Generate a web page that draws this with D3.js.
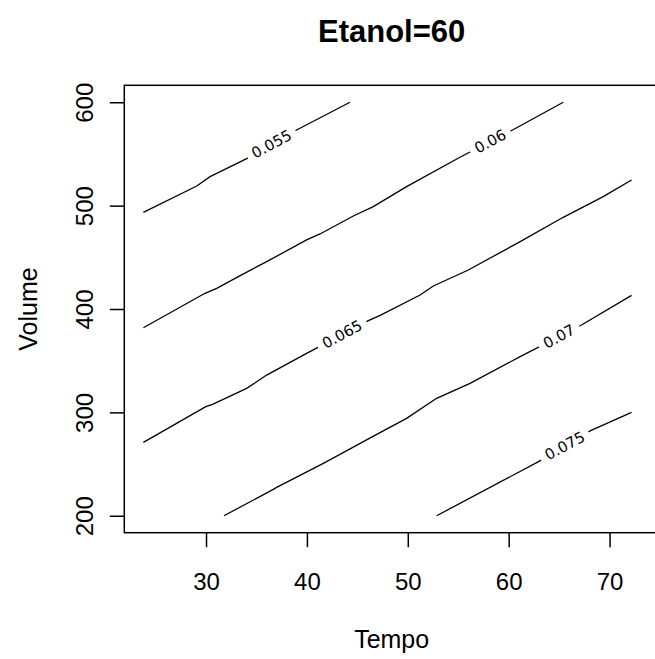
<!DOCTYPE html>
<html>
<head>
<meta charset="utf-8">
<script src="https://cdn.jsdelivr.net/npm/d3@7/dist/d3.min.js"></script>
<style>
  html, body { margin: 0; padding: 0; background: #fff; }
  svg { display: block; }
</style>
</head>
<body>
<svg id="chart" width="655" height="659"></svg>
<script>
// ---- data ----
const title = "Etanol=60";
const xLabel = "Tempo";
const yLabel = "Volume";
const xTicks = [30, 40, 50, 60, 70];
const yTicks = [200, 300, 400, 500, 600];
const levels = ["0.055", "0.06", "0.065", "0.07", "0.075"];

// contour polylines, [Tempo, Volume]
const c055 = [[23.79,493.5],[29.08,519.0],[30.40,528.0],[34.03,545.5],[38.98,573.2],[44.27,600]];
const c060 = [[23.79,381.9],[29.90,415.2],[31.06,420.0],[33.20,431.3],[36.01,445.8],[39.97,466.8],[41.30,472.6],[44.60,490.0],[46.58,499.0],[49.88,518.4],[55.17,546.8],[60.39,573.2],[65.41,600]];
const c065 = [[23.79,271.0],[29.98,305.5],[30.64,307.8],[34.03,323.2],[36.01,336.1],[39.97,357.1],[46.09,388.7],[47.26,393.9],[51.22,413.5],[52.53,422.3],[56.00,437.7],[61.14,465.2],[65.41,488.7],[69.37,508.7],[72.18,524.8]];
const c070 = [[31.78,200],[36.67,225.5],[37.00,227.4],[41.63,250.7],[46.92,278.7],[49.88,294.2],[52.86,313.6],[56.17,328.1],[61.14,353.9],[67.22,384.5],[72.18,413.2]];
const c075 = [[52.86,200],[62.96,252.3],[68.12,282.3],[72.18,300]];
const contours = [c055, c060, c065, c070, c075];
// label anchor Tempo values along each contour
const labelT = [36.51, 58.18, 43.5, 65.0, 65.57];

// ---- layout ----
const svg = d3.select("#chart");
const plot = { left: 124.3, top: 85.3, right: 659, bottom: 532.7 };

const x = d3.scaleLinear().domain([21.9, 74.9]).range([plot.left, plot.right]);
const y = d3.scaleLinear().domain([183.6, 616.4]).range([plot.bottom, plot.top]);

const font = "'Liberation Sans', Arial, Helvetica, sans-serif";

// contour lines
const line = d3.line().x(d => x(d[0])).y(d => y(d[1]));
svg.append("g").selectAll("path").data(contours).join("path")
  .attr("d", line)
  .attr("fill", "none")
  .attr("stroke", "#000")
  .attr("stroke-width", 1.3);

// labels
function interp(poly, t) {
  for (let i = 0; i < poly.length - 1; i++) {
    const a = poly[i], b = poly[i + 1];
    if (t >= a[0] && t <= b[0]) {
      const f = (t - a[0]) / (b[0] - a[0]);
      return a[1] + f * (b[1] - a[1]);
    }
  }
  return poly[poly.length - 1][1];
}
const lab = svg.append("g");
contours.forEach((poly, i) => {
  const t = labelT[i];
  const v = interp(poly, t);
  const p0 = poly[0], p1 = poly[poly.length - 1];
  const ang = Math.atan2(y(p1[1]) - y(p0[1]), x(p1[0]) - x(p0[0])) * 180 / Math.PI;
  const g = lab.append("g")
    .attr("transform", `translate(${x(t)},${y(v)}) rotate(${ang})`);
  const txt = g.append("text")
    .attr("text-anchor", "middle")
    .attr("dominant-baseline", "central")
    .attr("font-family", "'DejaVu Sans', sans-serif")
    .attr("font-size", 15)
    .attr("fill", "#000")
    .text(levels[i]);
  const w = txt.node().getComputedTextLength();
  g.insert("rect", "text")
    .attr("x", -w / 2 - 6).attr("y", -8)
    .attr("width", w + 12).attr("height", 16)
    .attr("fill", "#fff");
});

// box
svg.append("rect")
  .attr("x", plot.left).attr("y", plot.top)
  .attr("width", plot.right - plot.left).attr("height", plot.bottom - plot.top)
  .attr("fill", "none").attr("stroke", "#000").attr("stroke-width", 1.5);

// x axis
const xAxis = d3.axisBottom(x).tickValues(xTicks).tickSize(14.5).tickFormat(d3.format("d"));
const gx = svg.append("g").attr("transform", `translate(0,${plot.bottom})`).call(xAxis);
gx.select(".domain").remove();
gx.selectAll("line").attr("stroke", "#000").attr("stroke-width", 1.5);
gx.selectAll("text").attr("font-family", font).attr("font-size", 24).attr("fill", "#000")
  .attr("dy", null).attr("y", 57);

// y axis
const yAxis = d3.axisLeft(y).tickValues(yTicks).tickSize(14.5).tickFormat(d3.format("d"));
const gy = svg.append("g").attr("transform", `translate(${plot.left},0)`).call(yAxis);
gy.select(".domain").remove();
gy.selectAll("line").attr("stroke", "#000").attr("stroke-width", 1.5);
gy.selectAll("text")
  .attr("font-family", font).attr("font-size", 24).attr("fill", "#000")
  .attr("x", null).attr("dy", null)
  .attr("text-anchor", "middle")
  .attr("transform", "translate(-31,0) rotate(-90)");

// titles
const cx = (plot.left + plot.right) / 2;
svg.append("text").attr("x", cx).attr("y", 41.7)
  .attr("text-anchor", "middle").attr("font-family", font)
  .attr("font-weight", "bold").attr("font-size", 31).text(title);
svg.append("text").attr("x", cx).attr("y", 648)
  .attr("text-anchor", "middle").attr("font-family", font)
  .attr("font-size", 25).text(xLabel);
svg.append("text")
  .attr("transform", `translate(37,${(plot.top + plot.bottom) / 2}) rotate(-90)`)
  .attr("text-anchor", "middle").attr("font-family", font)
  .attr("font-size", 25).text(yLabel);
</script>
</body>
</html>
